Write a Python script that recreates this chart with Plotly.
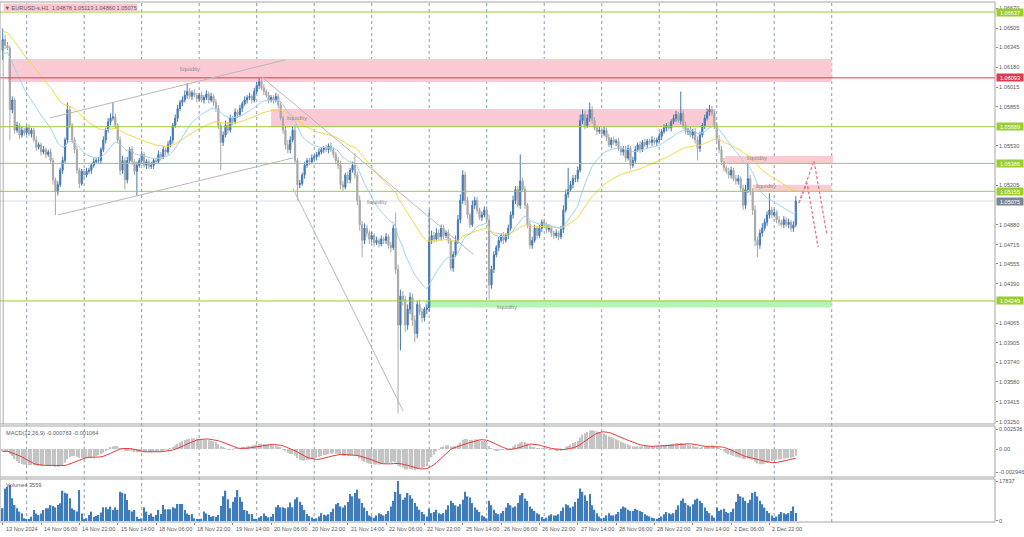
import plotly.graph_objects as go
import numpy as np

# ---------------- data ----------------
open0 = 1.0632
closes = [
 1.0641,1.0636,1.0634,1.0583,1.0591,1.0566,1.0570,1.0562,1.0566,1.0564,
 1.0568,1.0563,1.0566,1.0558,1.0552,1.0554,1.0548,1.0550,1.0546,1.0548,
 1.0541,1.0525,1.0515,1.0521,1.0533,1.0541,1.0558,1.0583,1.0570,1.0558,
 1.0550,1.0533,1.0522,1.0532,1.0529,1.0532,1.0533,1.0537,1.0540,1.0541,
 1.0541,1.0550,1.0558,1.0566,1.0573,1.0576,1.0577,1.0570,1.0558,1.0533,
 1.0541,1.0525,1.0541,1.0550,1.0540,1.0532,1.0537,1.0541,1.0546,1.0537,
 1.0540,1.0536,1.0537,1.0541,1.0540,1.0546,1.0544,1.0550,1.0548,1.0554,
 1.0558,1.0570,1.0576,1.0584,1.0589,1.0591,1.0595,1.0598,1.0594,1.0597,
 1.0595,1.0592,1.0595,1.0591,1.0593,1.0596,1.0591,1.0594,1.0589,1.0584,
 1.0570,1.0556,1.0562,1.0570,1.0566,1.0576,1.0573,1.0581,1.0579,1.0584,
 1.0588,1.0591,1.0593,1.0594,1.0591,1.0598,1.0603,1.0606,1.0601,1.0598,
 1.0595,1.0591,1.0593,1.0591,1.0594,1.0587,1.0576,1.0566,1.0554,1.0550,
 1.0558,1.0566,1.0541,1.0521,1.0522,1.0529,1.0537,1.0541,1.0540,1.0543,
 1.0544,1.0546,1.0548,1.0550,1.0551,1.0550,1.0553,1.0550,1.0546,1.0541,
 1.0537,1.0521,1.0519,1.0529,1.0525,1.0533,1.0537,1.0529,1.0508,1.0488,
 1.0475,1.0485,1.0481,1.0476,1.0479,1.0473,1.0475,1.0472,1.0476,1.0475,
 1.0478,1.0471,1.0469,1.0485,1.0451,1.0405,1.0429,1.0426,1.0405,1.0418,
 1.0428,1.0409,1.0398,1.0422,1.0416,1.0411,1.0418,1.0419,1.0475,1.0479,
 1.0476,1.0481,1.0478,1.0485,1.0479,1.0481,1.0475,1.0452,1.0463,1.0475,
 1.0492,1.0508,1.0529,1.0508,1.0496,1.0488,1.0504,1.0508,1.0500,1.0494,
 1.0496,1.0500,1.0492,1.0438,1.0451,1.0463,1.0469,1.0475,1.0479,1.0475,
 1.0479,1.0485,1.0496,1.0508,1.0517,1.0504,1.0524,1.0517,1.0504,1.0488,
 1.0471,1.0475,1.0485,1.0479,1.0485,1.0490,1.0488,1.0484,1.0485,1.0481,
 1.0479,1.0481,1.0478,1.0484,1.0500,1.0513,1.0517,1.0521,1.0526,1.0526,
 1.0533,1.0574,1.0579,1.0570,1.0576,1.0583,1.0574,1.0568,1.0565,1.0566,
 1.0563,1.0566,1.0560,1.0554,1.0558,1.0556,1.0557,1.0551,1.0548,1.0550,
 1.0543,1.0551,1.0537,1.0541,1.0550,1.0554,1.0550,1.0556,1.0554,1.0557,
 1.0556,1.0558,1.0556,1.0558,1.0561,1.0565,1.0568,1.0570,1.0568,1.0573,
 1.0576,1.0579,1.0574,1.0580,1.0570,1.0565,1.0566,1.0562,1.0565,1.0558,
 1.0551,1.0562,1.0570,1.0576,1.0581,1.0583,1.0580,1.0570,1.0558,1.0550,
 1.0540,1.0535,1.0532,1.0529,1.0533,1.0526,1.0524,1.0526,1.0518,1.0504,
 1.0517,1.0526,1.0515,1.0500,1.0475,1.0471,1.0481,1.0485,1.0490,1.0496,
 1.0500,1.0496,1.0498,1.0492,1.0490,1.0488,1.0492,1.0488,1.0490,1.0485,1.04878,1.05075]

upper_wick_pips = [
 9,4,3,2,3,2,3,2,3,2, 2,3,2,2,3,2,2,3,2,2, 3,2,2,3,2,3,2,6,3,2, 2,3,2,2,2,3,2,2,3,2,
 3,2,3,2,3,4,12,3,2,3, 4,3,3,2,3,2,3,2,3,2, 2,2,3,2,2,3,2,3,2,3, 3,2,3,3,2,3,4,7,3,2,
 3,2,2,3,2,3,2,3,2,3, 3,2,3,4,3,3,2,3,2,3, 2,3,2,3,2,3,3,3,2,3, 2,3,2,2,3,2,3,2,3,4,
 3,3,4,2,3,2,3,2,2,3, 2,2,3,2,2,3,2,3,2,2, 3,4,3,2,3,2,3,10,3,4, 3,4,3,2,3,2,3,2,3,2,
 3,2,3,3,13,4,5,4,3,4, 4,3,4,3,4,3,2,3,25,4, 3,4,3,3,3,2,3,2,3,4, 4,5,4,3,3,2,4,3,3,2,
 3,3,3,4,3,3,2,3,2,3, 2,3,3,4,3,3,22,3,3,2, 3,3,3,2,3,2,3,2,3,2, 2,3,2,3,4,4,18,3,3,3,
 3,5,4,3,3,6,3,3,2,3, 2,3,2,3,2,3,2,3,2,3, 3,3,2,3,3,2,3,2,3,2, 2,3,2,2,3,2,3,2,3,2,
 3,3,2,18,3,3,2,3,2,3, 3,3,2,3,3,4,3,3,3,4, 3,3,2,3,3,2,3,3,2,3, 4,13,3,3,4,3,3,4,3,3,
 14,3,3,2,3,2,3,2,3,2,3,4]
lower_wick_pips = [
 8,3,2,25,3,3,2,3,2,3, 2,2,3,2,3,2,3,2,3,2, 3,4,19,3,2,3,2,3,2,3, 3,3,4,2,3,2,2,3,2,2,
 2,3,2,3,2,3,2,3,3,4, 3,8,3,2,3,3,20,2,3,2, 3,2,2,3,2,2,3,2,3,2, 2,3,2,3,2,3,2,3,2,3,
 2,3,2,2,3,2,3,2,3,3, 3,23,3,2,3,2,3,2,3,2, 3,2,3,2,3,2,2,3,2,3, 2,3,2,3,2,3,2,3,4,3,
 3,2,3,13,3,2,3,2,3,2, 2,3,2,2,3,2,3,2,3,3, 3,4,3,2,3,3,2,3,4,5, 14,3,3,4,3,3,2,3,2,3,
 3,3,4,2,4,73,21,5,6,4, 4,5,7,4,3,4,3,4,3,3, 3,2,3,3,3,2,3,2,3,2, 3,3,3,4,3,3,2,3,3,2,
 3,2,3,12,3,3,2,3,2,3, 2,3,2,3,3,2,3,2,3,3, 3,3,2,3,2,3,2,3,2,3, 3,2,3,2,3,2,3,2,3,3,
 3,2,3,3,2,3,3,2,3,2, 3,2,3,2,3,2,3,2,3,3, 3,2,3,2,3,2,3,2,2,3, 2,3,2,3,2,3,2,3,2,3,
 2,3,2,3,3,2,3,2,3,3, 10,3,2,3,2,3,2,3,3,3, 3,3,2,3,3,2,3,3,3,4, 3,3,3,4,5,10,3,3,2,3,
 3,3,2,3,3,2,3,2,3,3,3,2]

volumes = [
 5700,14500,15300,16100,10100,7100,5700,4200,3400,1200,
 800,900,1900,4900,3400,2700,3400,4900,5700,5700,
 7100,6700,6100,7100,7900,13500,12600,12200,10100,5700,
 4900,4200,13800,3400,800,1200,2700,4200,1900,2200,
 2700,3800,6100,6100,5200,6400,4900,6100,5000,13000,
 12600,12200,9400,4900,4200,4900,1900,800,1200,6100,
 4200,2700,3400,1900,2700,4900,3100,7100,5200,5200,
 5200,6100,5700,7600,7600,7600,4900,3400,2700,3100,
 1200,900,800,1000,4200,3400,2700,1900,2200,1900,
 2700,6700,11000,13500,9700,5700,8600,10600,13800,10600,
 8600,4900,4600,3100,3100,900,800,1600,2200,3400,
 2200,1600,1900,3100,6100,7100,6100,6100,5700,6100,
 8200,6100,9700,10600,8600,7100,4900,3100,2200,1600,
 900,1200,2000,3500,2800,2500,3000,4000,5500,7500,8000,6500,6000,7000,8500,12000,11000,12500,14000,10000,8000,6000,4500,2500,
 2000,1500,2500,3500,3000,2500,3000,4500,6500,9000,13000,17837,12000,9500,10500,12500,11500,10000,8000,6500,5000,4000,3000,2000,
 5500,3500,4000,5000,3500,3000,3500,5000,7000,9000,8000,7000,6500,7500,9500,13000,11000,10500,8000,6000,5000,4000,2500,2000,
 1200,9000,7000,5000,3500,3000,3500,4500,6000,8000,7000,6000,6500,8000,11500,12500,10000,9000,6500,5500,4500,3500,3000,1800,
 1000,1500,2500,3000,2500,2500,3000,4500,6000,7500,7000,6000,6500,8500,10000,14500,13000,11500,9000,12000,7000,5000,3500,2000,
 1200,1500,2500,3500,2500,2500,3000,4000,5500,6500,6000,5000,4500,4500,5500,5000,4500,4000,3000,2500,2000,1500,1200,1000,
 1500,2000,3000,4000,3500,3000,3500,5000,7000,9000,10000,8000,7000,6500,7500,9500,10000,9000,8000,6000,4500,3500,2500,1500,
 6000,4500,5000,5500,4000,3500,4000,5500,8500,12000,11000,10500,9000,8000,9500,12500,13000,11000,9000,7500,6000,4500,3500,2500,
 1500,2000,3000,4000,3500,3000,3500,4500,6500,3559]

# indicator seeds (values of the averages at the left edge)
ema20_seed, ema50_seed = 1.0628, 1.0648
ema12_seed, ema26_seed = 1.0634, 1.0638

time_tick_bars = [0,16,32,48,64,80,96,112,128,144,160,176,192,208,224,240,256,272,288,304,320]
time_tick_labels = ["13 Nov 2024","14 Nov 06:00","14 Nov 22:00","15 Nov 14:00","18 Nov 06:00",
    "18 Nov 22:00","19 Nov 14:00","20 Nov 06:00","20 Nov 22:00","21 Nov 14:00","22 Nov 06:00",
    "22 Nov 22:00","25 Nov 14:00","26 Nov 06:00","26 Nov 22:00","27 Nov 14:00","28 Nov 06:00",
    "28 Nov 22:00","29 Nov 14:00","2 Dec 06:00","2 Dec 22:00"]
midnight_bars = [10,34,58,82,106,130,154,178,202,226,250,274,298,322,346]

# scale labels that are not hidden by the price tags
price_ticks = [1.06670,1.06505,1.06345,1.06180,1.06015,1.05855,1.05530,1.05205,
               1.04880,1.04715,1.04555,1.04390,1.04065,1.03905,1.03740,1.03580,
               1.03415,1.03250]

level_prices = [1.06637, 1.06093, 1.05689, 1.05386, 1.05155, 1.04249]
level_colors = ["#9ACD32", "#DC3C50", "#9ACD32", "#9ACD32", "#9ACD32", "#9ACD32"]
bid_price = 1.05075

# zones: (bar_from, bar_to, price_low, price_high, colour, label_bar, label_price)
zones = [
 (2.2, 346, 1.06059, 1.06249, "#FBCAD4", 78.2, 1.06166),
 (112, 297.5, 1.05687, 1.05836, "#FBCAD4", 122.8, 1.05761),
 (301.5, 346.5, 1.05389, 1.05447, "#FBCAD4", 314.8, 1.05431),
 (313, 346, 1.05158, 1.05210, "#FBCAD4", 318.6, 1.05199),
 (176.3, 346, 1.04194, 1.04251, "#B3F5B3", 210.5, 1.04199),
]
extra_label = (156.2, 1.05067)

# drawn trend lines: (bar1, price1, bar2, price2)
trend_lines = [
 (19.7, 1.05761, 117.8, 1.06241),
 (23.1, 1.04960, 121.2, 1.05431),
 (108.2, 1.06100, 196.3, 1.04637),
 (121.2, 1.05175, 167.1, 1.03340),
]
# projected path drawings
proj_paths = [
 ([332.3, 335.7, 340.3], [1.05059, 1.05224, 1.04695]),
 ([332.3, 338.6, 344.0], [1.05059, 1.05406, 1.04794]),
]

# ---------------- build ----------------
n = len(closes)
idx = list(range(n))
opens = [open0] + closes[:-1]
highs = [max(o, c) + u * 1e-4 for o, c, u in zip(opens, closes, upper_wick_pips)]
lows = [min(o, c) - l * 1e-4 for o, c, l in zip(opens, closes, lower_wick_pips)]

def ema(values, period, seed):
    a = 2.0 / (period + 1)
    e = seed
    out = []
    for v in values:
        e = e + a * (v - e)
        out.append(e)
    return out

ma_fast = ema(closes, 20, ema20_seed)
ma_slow = ema(closes, 50, ema50_seed)
macd_main = [a - b for a, b in zip(ema(closes, 12, ema12_seed), ema(closes, 26, ema26_seed))]
macd_signal = [float(np.mean(macd_main[max(0, i - 8):i + 1])) for i in range(n)]

BULL = "#4479B3"
BEAR = "#A8A8A8"
TXT = "#5A5A5A"
FONT = "Liberation Sans"
FS = 5.6

fig = go.Figure()

fig.add_trace(go.Scatter(x=idx, y=ma_slow, mode="lines", line=dict(color="#F4D845", width=1),
                         xaxis="x", yaxis="y", hoverinfo="skip"))
fig.add_trace(go.Scatter(x=idx, y=ma_fast, mode="lines", line=dict(color="#9CD4EE", width=1),
                         xaxis="x", yaxis="y", hoverinfo="skip"))
fig.add_trace(go.Candlestick(x=idx, open=opens, high=highs, low=lows, close=closes,
                             increasing=dict(line=dict(color=BULL, width=1), fillcolor=BULL),
                             decreasing=dict(line=dict(color=BEAR, width=1), fillcolor=BEAR),
                             whiskerwidth=0, xaxis="x", yaxis="y", hoverinfo="skip"))
for bx, py in proj_paths:
    fig.add_trace(go.Scatter(x=bx, y=py, mode="lines", line=dict(color="#F07090", width=1.3, dash="3px,2px"),
                             xaxis="x", yaxis="y", hoverinfo="skip"))

fig.add_trace(go.Bar(x=idx, y=macd_main, marker=dict(color="#C4C4C4", line=dict(width=0)),
                     xaxis="x", yaxis="y2", hoverinfo="skip"))
fig.add_trace(go.Scatter(x=idx, y=macd_signal, mode="lines", line=dict(color="#E83A3A", width=1),
                         xaxis="x", yaxis="y2", hoverinfo="skip"))
fig.add_trace(go.Bar(x=idx, y=volumes, marker=dict(color="#3F7CBC", line=dict(width=0)),
                     xaxis="x", yaxis="y3", hoverinfo="skip"))

shapes = []
for b0, b1, plo, phi, col, lb, lp in zones:
    shapes.append(dict(type="rect", xref="x", yref="y", x0=b0, x1=b1, y0=plo, y1=phi,
                       fillcolor=col, line=dict(width=0), layer="below"))
for b in midnight_bars:
    shapes.append(dict(type="line", xref="x", yref="paper", x0=b, x1=b, y0=0, y1=1,
                       line=dict(color="#8C9CAC", width=1, dash="3px,3px"), layer="below"))
for p, c in zip(level_prices, level_colors):
    shapes.append(dict(type="line", xref="paper", yref="y", x0=0, x1=1, y0=p, y1=p,
                       line=dict(color=c, width=1)))
shapes.append(dict(type="line", xref="paper", yref="y", x0=0, x1=1, y0=bid_price, y1=bid_price,
                   line=dict(color="#DCDCEA", width=1), layer="below"))
for b1, p1, b2, p2 in trend_lines:
    shapes.append(dict(type="line", xref="x", yref="y", x0=b1, y0=p1, x1=b2, y1=p2,
                       line=dict(color="#B8B8B8", width=1)))
shapes.append(dict(type="line", xref="x", yref="y", x0=0.2, x1=0.2, y0=1.0640, y1=1.03232,
                   line=dict(color="#A8A8A8", width=1)))
D_MAIN = [0.1885, 1.0]
D_MACD = [0.0865, 0.1846]
D_VOL = [0.0, 0.0827]
for d in (D_MAIN, D_MACD, D_VOL):
    shapes.append(dict(type="rect", xref="paper", yref="paper", x0=0, x1=1, y0=d[0], y1=d[1],
                       line=dict(color="#A4A4A4", width=1), fillcolor="rgba(0,0,0,0)"))

ann = []
for b0, b1, plo, phi, col, lb, lp in zones:
    ann.append(dict(x=lb, y=lp, xref="x", yref="y", text="liquidity", showarrow=False,
                    font=dict(size=6, color="#8C8C8C", family=FONT)))
ann.append(dict(x=extra_label[0], y=extra_label[1], xref="x", yref="y", text="liquidity", showarrow=False,
                font=dict(size=6, color="#8C8C8C", family=FONT)))
tag_prices = level_prices + [bid_price]
tag_colors = level_colors + ["#7A8694"]
for p, c in zip(tag_prices, tag_colors):
    ann.append(dict(x=1, xref="paper", y=p, yref="y", xanchor="left", xshift=1, text=f"{p:.5f}",
                    showarrow=False, bgcolor=c, borderpad=0.5, width=25,
                    font=dict(size=FS, color="white", family=FONT)))
for b, t in zip(time_tick_bars, time_tick_labels):
    ann.append(dict(x=b, xref="x", y=0, yref="paper", yanchor="top", xanchor="left", xshift=1, yshift=-2,
                    text=t, showarrow=False, font=dict(size=FS, color=TXT, family=FONT)))
ann.append(dict(x=0.003, xref="paper", y=1, yref="paper", yanchor="top", xanchor="left", yshift=-1,
                text="▼ EURUSD-s,H1  1.04878 1.05113 1.04860 1.05075", showarrow=False,
                bgcolor="#FAC8D2", borderpad=0.5, font=dict(size=FS, color=TXT, family=FONT)))
ann.append(dict(x=0.004, xref="paper", y=D_MACD[1], yref="paper", yanchor="top", xanchor="left", yshift=-2,
                text="MACD(12,26,9) -0.000763 -0.001064", showarrow=False,
                font=dict(size=FS, color=TXT, family=FONT)))
ann.append(dict(x=0.004, xref="paper", y=D_VOL[1], yref="paper", yanchor="top", xanchor="left", yshift=-1,
                text="Volumes 3559", showarrow=False, font=dict(size=FS, color=TXT, family=FONT)))

tickfont = dict(size=FS, color=TXT, family=FONT)
fig.update_layout(
    width=1024, height=537, margin=dict(l=0, r=29, t=2, b=15),
    paper_bgcolor="white", plot_bgcolor="white", showlegend=False,
    barmode="overlay", bargap=0.4,
    font=dict(family=FONT, size=FS, color=TXT),
    xaxis=dict(range=[-1.127, 414.14], showgrid=False, zeroline=False, anchor="y3",
               tickvals=time_tick_bars, ticktext=[""] * len(time_tick_bars), ticks="outside",
               ticklen=2, tickcolor="#888888", showline=False,
               rangeslider=dict(visible=False), fixedrange=True),
    yaxis=dict(domain=D_MAIN, range=[1.03232, 1.06720], side="right", anchor="x",
               tickvals=price_ticks, ticktext=[f"{v:.5f}" for v in price_ticks],
               ticks="outside", ticklen=2, tickcolor="#888888", tickfont=tickfont,
               showgrid=False, zeroline=False, showline=False),
    yaxis2=dict(domain=D_MACD, range=[-0.00357, 0.002932], side="right", anchor="x",
                tickvals=[0.002536, 0.0, -0.002946], ticktext=["0.002536", "0.00", "-0.002946"],
                ticks="outside", ticklen=2, tickcolor="#888888", tickfont=tickfont,
                showgrid=False, zeroline=False, showline=False),
    yaxis3=dict(domain=D_VOL, range=[-446, 18732], side="right", anchor="x",
                tickvals=[17837, 0], ticktext=["17837", "0"],
                ticks="outside", ticklen=2, tickcolor="#888888", tickfont=tickfont,
                showgrid=False, zeroline=False, showline=False),
    shapes=shapes, annotations=ann,
)

fig.write_html("out.html", config={"displayModeBar": False},
               post_script="document.body.style.margin='0px';document.body.style.overflow='hidden';")
